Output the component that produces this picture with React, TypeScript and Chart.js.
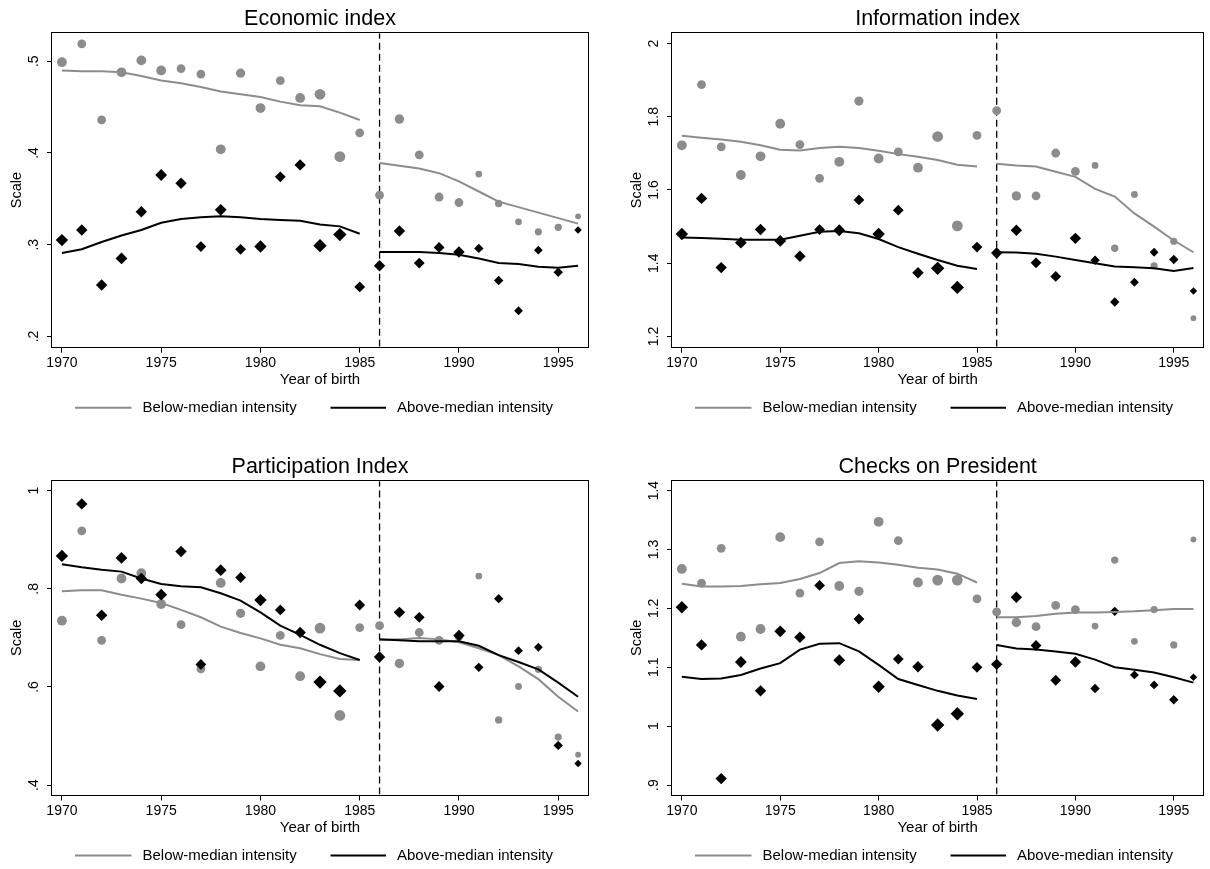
import React, { useEffect, useRef } from "react";
import { Chart, registerables } from "chart.js";

Chart.register(...registerables);

const FONT = "'Liberation Sans', Arial, Helvetica, sans-serif";
const GREY = "#8c8c8c";
const BLACK = "#000000";

// ---------- data ----------
const years = [1970, 1971, 1972, 1973, 1974, 1975, 1976, 1977, 1978, 1979, 1980, 1981, 1982, 1983, 1984, 1985, 1986, 1987, 1988, 1989, 1990, 1991, 1992, 1993, 1994, 1995, 1996];
const preYears = [1970, 1971, 1972, 1973, 1974, 1975, 1976, 1977, 1978, 1979, 1980, 1981, 1982, 1983, 1984, 1985];
const postYears = [1986, 1987, 1988, 1989, 1990, 1991, 1992, 1993, 1994, 1995, 1996];
const cutoffYear = 1986;
const xMin = 1969.5;
const xMax = 1996.5;
const xTickStep = 5;

const legendLabels = ["Below-median intensity", "Above-median intensity"];
const xAxisTitle = "Year of birth";
const yAxisTitle = "Scale";
const panelTitles = ["Economic index", "Information index", "Participation Index", "Checks on President"];
const yMins = [0.1888, 1.172, 0.381, 0.884];
const yMaxs = [0.5305, 2.028, 1.019, 1.4158];
const ySteps = [0.1, 0.2, 0.2, 0.1];

// marker sizes (cohort weights), shared by all panels
const circleSizes = [4.9, 4.4, 4.4, 4.9, 4.9, 4.9, 4.4, 4.4, 4.9, 4.6, 4.9, 4.4, 4.9, 5.4, 5.4, 4.4, 4.4, 4.7, 4.4, 4.4, 4.4, 3.4, 3.7, 3.4, 3.6, 3.6, 2.9];
const diamondSizes = [6.2, 5.7, 5.7, 5.9, 5.7, 5.9, 5.7, 5.4, 5.9, 5.4, 6.2, 5.4, 5.7, 6.7, 6.7, 5.4, 5.7, 5.7, 5.4, 5.4, 5.7, 4.7, 4.7, 4.4, 4.4, 4.7, 3.7];

// Economic index
const econBelow = [0.499, 0.519, 0.436, 0.488, 0.501, 0.490, 0.492, 0.486, 0.404, 0.487, 0.449, 0.479, 0.460, 0.464, 0.396, 0.422, 0.354, 0.437, 0.398, 0.352, 0.346, 0.377, 0.345, 0.325, 0.314, 0.319, 0.331];
const econAbove = [0.305, 0.316, 0.256, 0.285, 0.336, 0.376, 0.367, 0.298, 0.338, 0.295, 0.298, 0.374, 0.387, 0.299, 0.311, 0.254, 0.277, 0.315, 0.280, 0.297, 0.292, 0.296, 0.261, 0.228, 0.294, 0.270, 0.316];
const econBelowFitPre = [0.490, 0.489, 0.489, 0.488, 0.484, 0.479, 0.476, 0.472, 0.467, 0.464, 0.461, 0.456, 0.452, 0.451, 0.444, 0.436];
const econBelowFitPost = [0.389, 0.386, 0.383, 0.378, 0.369, 0.358, 0.347, 0.341, 0.335, 0.329, 0.323];
const econAboveFitPre = [0.291, 0.295, 0.303, 0.310, 0.316, 0.324, 0.328, 0.330, 0.331, 0.330, 0.328, 0.327, 0.326, 0.322, 0.320, 0.312];
const econAboveFitPost = [0.292, 0.292, 0.292, 0.291, 0.289, 0.285, 0.280, 0.279, 0.276, 0.275, 0.277];

// Information index
const infoBelow = [1.722, 1.888, 1.718, 1.641, 1.692, 1.781, 1.724, 1.632, 1.677, 1.843, 1.686, 1.704, 1.661, 1.746, 1.502, 1.749, 1.817, 1.584, 1.584, 1.701, 1.651, 1.667, 1.441, 1.588, 1.393, 1.460, 1.250];
const infoAbove = [1.480, 1.577, 1.388, 1.456, 1.492, 1.461, 1.419, 1.492, 1.490, 1.573, 1.480, 1.545, 1.374, 1.386, 1.334, 1.444, 1.428, 1.490, 1.401, 1.364, 1.468, 1.408, 1.294, 1.348, 1.430, 1.410, 1.324];
const infoBelowFitPre = [1.748, 1.743, 1.738, 1.732, 1.722, 1.710, 1.708, 1.715, 1.718, 1.715, 1.707, 1.698, 1.691, 1.682, 1.669, 1.664];
const infoBelowFitPost = [1.672, 1.667, 1.664, 1.650, 1.636, 1.603, 1.582, 1.536, 1.500, 1.462, 1.430];
const infoAboveFitPre = [1.470, 1.469, 1.467, 1.464, 1.464, 1.464, 1.475, 1.486, 1.488, 1.482, 1.466, 1.444, 1.426, 1.409, 1.393, 1.384];
const infoAboveFitPost = [1.430, 1.429, 1.426, 1.418, 1.409, 1.400, 1.391, 1.389, 1.386, 1.379, 1.387];

// Participation Index
const partBelow = [0.735, 0.918, 0.695, 0.821, 0.832, 0.769, 0.727, 0.637, 0.812, 0.750, 0.642, 0.705, 0.622, 0.720, 0.542, 0.721, 0.725, 0.648, 0.711, 0.695, 0.703, 0.826, 0.533, 0.601, 0.636, 0.498, 0.462];
const partAbove = [0.867, 0.973, 0.746, 0.863, 0.821, 0.788, 0.876, 0.646, 0.838, 0.823, 0.777, 0.757, 0.711, 0.610, 0.592, 0.767, 0.661, 0.752, 0.742, 0.601, 0.705, 0.640, 0.780, 0.674, 0.681, 0.481, 0.444];
const partBelowFitPre = [0.795, 0.797, 0.797, 0.788, 0.780, 0.771, 0.757, 0.742, 0.723, 0.710, 0.699, 0.686, 0.679, 0.667, 0.657, 0.655];
const partBelowFitPost = [0.695, 0.697, 0.700, 0.697, 0.691, 0.679, 0.665, 0.642, 0.616, 0.580, 0.550];
const partAboveFitPre = [0.850, 0.844, 0.839, 0.835, 0.821, 0.810, 0.805, 0.803, 0.791, 0.776, 0.752, 0.725, 0.706, 0.686, 0.669, 0.655];
const partAboveFitPost = [0.697, 0.695, 0.693, 0.693, 0.693, 0.684, 0.665, 0.651, 0.636, 0.609, 0.580];

// Checks on President
const checksBelow = [1.267, 1.243, 1.302, 1.152, 1.165, 1.321, 1.226, 1.313, 1.238, 1.229, 1.347, 1.315, 1.244, 1.248, 1.248, 1.216, 1.194, 1.176, 1.169, 1.205, 1.198, 1.170, 1.282, 1.144, 1.198, 1.138, 1.317];
const checksAbove = [1.202, 1.138, 0.911, 1.109, 1.060, 1.161, 1.151, 1.239, 1.112, 1.182, 1.067, 1.114, 1.101, 1.002, 1.021, 1.100, 1.105, 1.219, 1.137, 1.078, 1.109, 1.064, 1.195, 1.087, 1.070, 1.045, 1.083];
const checksBelowFitPre = [1.242, 1.237, 1.237, 1.238, 1.241, 1.243, 1.250, 1.260, 1.277, 1.280, 1.278, 1.274, 1.269, 1.266, 1.259, 1.244];
const checksBelowFitPost = [1.185, 1.185, 1.187, 1.191, 1.193, 1.193, 1.194, 1.195, 1.197, 1.199, 1.199];
const checksAboveFitPre = [1.084, 1.080, 1.081, 1.087, 1.098, 1.107, 1.130, 1.140, 1.141, 1.127, 1.104, 1.080, 1.070, 1.060, 1.052, 1.046];
const checksAboveFitPost = [1.138, 1.132, 1.130, 1.127, 1.123, 1.113, 1.100, 1.096, 1.091, 1.083, 1.074];

const belowPoints = [econBelow, infoBelow, partBelow, checksBelow];
const abovePoints = [econAbove, infoAbove, partAbove, checksAbove];
const belowFitPre = [econBelowFitPre, infoBelowFitPre, partBelowFitPre, checksBelowFitPre];
const belowFitPost = [econBelowFitPost, infoBelowFitPost, partBelowFitPost, checksBelowFitPost];
const aboveFitPre = [econAboveFitPre, infoAboveFitPre, partAboveFitPre, checksAboveFitPre];
const aboveFitPost = [econAboveFitPost, infoAboveFitPost, partAboveFitPost, checksAboveFitPost];

// ---------- helpers ----------
const pts = (xs: number[], ys: number[]) => xs.map((x, i) => ({ x, y: ys[i] }));
const fmtTick = (v: number) => {
  const s = String(Math.round(v * 10) / 10);
  return s.startsWith("0.") ? s.slice(1) : s;
};

const decorPlugin = {
  id: "panelDecor",
  afterDatasetsDraw(chart: any) {
    const { ctx, chartArea: ca } = chart;
    ctx.save();
    ctx.strokeStyle = BLACK;
    ctx.lineWidth = 1;
    const l = Math.round(ca.left) - 0.5;
    const t = Math.round(ca.top) - 0.5;
    const r = Math.round(ca.right) + 0.5;
    const b = Math.round(ca.bottom) + 0.5;
    ctx.strokeRect(l, t, r - l, b - t);
    ctx.restore();
  },
  afterDraw(chart: any) {
    const { ctx, chartArea: ca } = chart;
    const ys = chart.scales.y;
    ctx.save();
    // rotated y tick labels
    ctx.fillStyle = BLACK;
    ctx.font = `14px ${FONT}`;
    ctx.textAlign = "center";
    ctx.textBaseline = "middle";
    ys.ticks.forEach((t: any) => {
      const py = ys.getPixelForValue(t.value);
      ctx.save();
      ctx.translate(ca.left - 18, py);
      ctx.rotate(-Math.PI / 2);
      ctx.fillText(fmtTick(t.value), 0, 0);
      ctx.restore();
    });
    // legend
    const cy = ca.bottom + 61;
    const items = [
      { color: GREY, x0: 23, x1: 79.5, tx: 90.5, text: legendLabels[0] },
      { color: BLACK, x0: 278.5, x1: 334, tx: 345, text: legendLabels[1] },
    ];
    ctx.font = `15px ${FONT}`;
    ctx.textAlign = "left";
    items.forEach((it) => {
      ctx.strokeStyle = it.color;
      ctx.lineWidth = 2;
      ctx.beginPath();
      ctx.moveTo(ca.left + it.x0, cy);
      ctx.lineTo(ca.left + it.x1, cy);
      ctx.stroke();
      ctx.fillStyle = BLACK;
      ctx.fillText(it.text, ca.left + it.tx, cy);
    });
    ctx.restore();
  },
};

const boxes = [
  { left: 0, top: 0, width: 600, height: 430, padRight: 12, padBottom: 40.8 },
  { left: 620, top: 0, width: 590, height: 430, padRight: 2, padBottom: 40.8 },
  { left: 0, top: 448, width: 600, height: 421, padRight: 12, padBottom: 32 },
  { left: 620, top: 448, width: 590, height: 421, padRight: 2, padBottom: 32 },
];

function Panel({ idx }: { idx: number }) {
  const ref = useRef<HTMLCanvasElement>(null);
  const box = boxes[idx];
  useEffect(() => {
    const yMin = yMins[idx];
    const yMax = yMaxs[idx];
    const lineDs = (data: any, color: string, width: number) => ({
      data,
      showLine: true,
      borderColor: color,
      backgroundColor: color,
      borderWidth: width,
      pointRadius: 0,
      pointHoverRadius: 0,
      tension: 0,
    });
    const chart = new Chart(ref.current as HTMLCanvasElement, {
      type: "scatter",
      data: {
        datasets: [
          { label: legendLabels[1], ...lineDs(pts(preYears, aboveFitPre[idx]), BLACK, 2) },
          { label: legendLabels[1], ...lineDs(pts(postYears, aboveFitPost[idx]), BLACK, 2) },
          { label: legendLabels[0], ...lineDs(pts(preYears, belowFitPre[idx]), GREY, 2) },
          { label: legendLabels[0], ...lineDs(pts(postYears, belowFitPost[idx]), GREY, 2) },
          {
            label: legendLabels[1],
            data: pts(years, abovePoints[idx]),
            pointStyle: "rectRot",
            pointRadius: diamondSizes,
            pointHoverRadius: diamondSizes,
            backgroundColor: BLACK,
            borderColor: BLACK,
            borderWidth: 0,
          },
          {
            label: legendLabels[0],
            data: pts(years, belowPoints[idx]),
            pointStyle: "circle",
            pointRadius: circleSizes,
            pointHoverRadius: circleSizes,
            backgroundColor: GREY,
            borderColor: GREY,
            borderWidth: 0,
          },
          {
            label: "cutoff",
            data: [
              { x: cutoffYear, y: yMin },
              { x: cutoffYear, y: yMax },
            ],
            showLine: true,
            borderColor: BLACK,
            borderWidth: 1.3,
            borderDash: [7, 4],
            pointRadius: 0,
            pointHoverRadius: 0,
          },
        ],
      } as any,
      options: {
        responsive: true,
        maintainAspectRatio: false,
        animation: false,
        devicePixelRatio: 1,
        events: [],
        layout: { padding: { left: 0, top: 0, right: box.padRight, bottom: box.padBottom } },
        plugins: {
          legend: { display: false },
          tooltip: { enabled: false },
          title: {
            display: true,
            text: panelTitles[idx],
            fullSize: false,
            color: BLACK,
            font: { family: FONT, size: 21.5, weight: "normal" },
            padding: { top: 6.5, bottom: 1.0 },
          },
        },
        scales: {
          x: {
            type: "linear",
            position: "bottom",
            min: xMin,
            max: xMax,
            afterFit: (s: any) => {
              s.height = 42.5;
            },
            border: { display: false },
            grid: { display: true, drawOnChartArea: false, drawTicks: true, tickLength: 6, color: BLACK, lineWidth: 1 },
            ticks: {
              stepSize: xTickStep,
              includeBounds: false,
              autoSkip: false,
              maxRotation: 0,
              padding: 2,
              color: BLACK,
              font: { family: FONT, size: 14 },
              callback: (v: any) => String(v),
            },
            title: {
              display: true,
              text: xAxisTitle,
              color: BLACK,
              font: { family: FONT, size: 15 },
              padding: { top: 0, bottom: 0 },
            },
          },
          y: {
            type: "linear",
            position: "left",
            min: yMin,
            max: yMax,
            afterFit: (s: any) => {
              s.width = 52;
            },
            border: { display: false },
            grid: { display: true, drawOnChartArea: false, drawTicks: true, tickLength: 5, color: BLACK, lineWidth: 1 },
            ticks: {
              stepSize: ySteps[idx],
              includeBounds: false,
              display: false,
            },
            title: {
              display: true,
              text: yAxisTitle,
              color: BLACK,
              font: { family: FONT, size: 14.5 },
              padding: { top: 8.3, bottom: 0 },
            },
          },
        },
      } as any,
      plugins: [decorPlugin],
    });
    return () => chart.destroy();
  }, [idx]);
  return (
    <div style={{ position: "absolute", left: box.left, top: box.top, width: box.width, height: box.height }}>
      <canvas ref={ref} />
    </div>
  );
}

export default function App() {
  return (
    <div style={{ position: "absolute", left: 0, top: 0, width: 1210, height: 869, overflow: "hidden", background: "#ffffff" }}>
      {[0, 1, 2, 3].map((i) => (
        <Panel key={i} idx={i} />
      ))}
    </div>
  );
}
